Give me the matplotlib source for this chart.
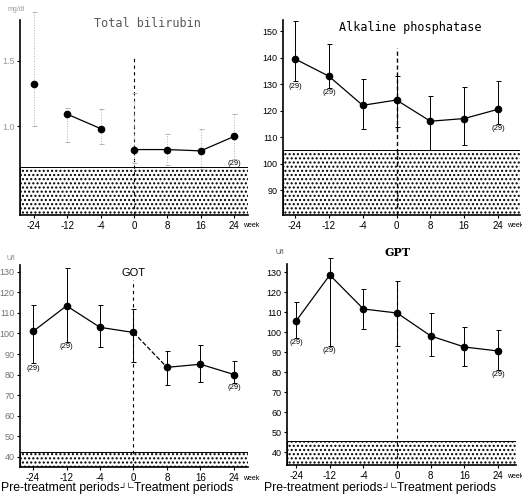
import matplotlib.pyplot as plt
import numpy as np

plt.rcParams['font.family'] = ['Liberation Sans', 'DejaVu Sans']

weeks = ["-24", "-12", "-4", "0", "8", "16", "24"]

# Total bilirubin (mg/dl)
bili_mean = [1.32, 1.09, 0.98, 0.82, 0.82, 0.81, 0.92]
bili_upper = [1.87, 1.14, 1.13, 1.25, 0.94, 0.98, 1.09]
bili_lower = [1.00, 0.88, 0.86, 0.72, 0.70, 0.67, 0.75]
bili_normal = 0.69

# Alkaline phosphatase
alp_mean = [139.5, 133.0, 122.0, 124.0, 116.0, 117.0, 120.5]
alp_upper = [154.0, 145.0, 132.0, 133.0, 125.5, 129.0, 131.0]
alp_lower = [131.0, 128.5, 113.0, 114.0, 105.0, 107.0, 115.0]
alp_normal = 105.0

# GOT
got_mean = [101.0, 113.5, 103.0, 100.5, 83.5, 85.0, 80.0]
got_upper = [114.0, 132.0, 114.0, 112.0, 91.5, 94.5, 86.5]
got_lower = [85.5, 96.0, 93.5, 86.0, 75.0, 76.5, 76.0]
got_normal = 42.0

# GPT
gpt_mean = [105.5, 128.5, 111.5, 109.5, 98.0, 92.5, 90.5]
gpt_upper = [115.0, 137.0, 121.5, 125.5, 109.5, 102.5, 101.0]
gpt_lower = [97.0, 93.0, 101.5, 93.0, 88.0, 83.0, 81.0]
gpt_normal = 45.5

n_label = "(29)"

W, H = 522, 496
fig = plt.figure(figsize=(W / 100, H / 100), dpi=100)


def panel(left, top, right, bottom):
    return fig.add_axes([left / W, 1 - bottom / H, (right - left) / W, (bottom - top) / H])


def setup(ax, xlim, ylim, yticks, ylabels, tick_color='black'):
    x = np.arange(len(weeks))
    ax.set_xlim(*xlim)
    ax.set_ylim(*ylim)
    for s in ['top', 'right']:
        ax.spines[s].set_visible(False)
    ax.spines['left'].set_linewidth(1.2)
    ax.spines['bottom'].set_linewidth(1.2)
    ax.set_xticks(x)
    ax.set_xticklabels(weeks, fontsize=7)
    ax.set_yticks(yticks)
    ax.set_yticklabels(ylabels, fontsize=6.5, color=tick_color)
    ax.tick_params(axis='both', length=2.5, width=0.8, pad=1.5)
    ax.text(6.27, -0.055, "week", transform=ax.get_xaxis_transform(),
            fontsize=5, va='center', ha='left', clip_on=False)
    return x


def normal_band(ax, top):
    lo = ax.get_ylim()[0]
    ax.axhspan(lo, top, facecolor='white', edgecolor='black', hatch='....',
               linewidth=0.7, zorder=0)


def err(ax, x, mean, upper, lower, color='black', ls='-'):
    mean = np.array(mean)
    yerr = [mean - np.array(lower), np.array(upper) - mean]
    eb = ax.errorbar(x, mean, yerr=yerr, fmt='none', ecolor=color,
                     elinewidth=0.7, capsize=1.8, capthick=0.7, zorder=2)
    for coll in eb.lines[2]:
        coll.set_linestyle(ls)
        coll.set_clip_on(False)
    for cap in eb.lines[1]:
        cap.set_clip_on(False)


def nlabels(ax, x, lower, idx):
    for i in idx:
        ax.annotate(n_label, (x[i], lower[i]), xytext=(0, -1), textcoords='offset points',
                    ha='center', va='top', fontsize=5.5)


# ---- Total bilirubin ----
ax1 = panel(20, 20, 248, 215)
x = setup(ax1, (-0.42, 6.42), (0.32, 1.81), [1.0, 1.5], ["1.0", "1.5"], tick_color='0.6')
normal_band(ax1, bili_normal)
ax1.vlines(3, ax1.get_ylim()[0], 1.52, colors='black', linestyles=(0, (3, 3)), linewidth=0.8)
err(ax1, x, bili_mean, bili_upper, bili_lower, color='0.7', ls=':')
ax1.plot(x[0], bili_mean[0], 'o', color='black', ms=4.5)
ax1.plot(x[1:3], bili_mean[1:3], '-o', color='black', ms=4.5, lw=0.9)
ax1.plot(x[3:], bili_mean[3:], '-o', color='black', ms=4.5, lw=0.9)
nlabels(ax1, x, bili_lower, [6])
ax1.text(3.4, 1.78, "Total bilirubin", family='DejaVu Sans Mono', fontsize=8.5,
         ha='center', va='center', color='0.35')
ax1.text(-0.8, 1.88, "mg/dl", fontsize=5, color='0.6', ha='left', clip_on=False)

# ---- Alkaline phosphatase ----
ax2 = panel(283, 20, 520, 215)
x = setup(ax2, (-0.355, 6.65), (80.6, 154.2), [90, 100, 110, 120, 130, 140, 150],
          ["90", "100", "110", "120", "130", "140", "150"])
normal_band(ax2, alp_normal)
ax2.vlines(3, ax2.get_ylim()[0], 143.6, colors='black', linestyles=(0, (3, 2)), linewidth=1.0)
err(ax2, x, alp_mean, alp_upper, alp_lower)
ax2.plot(x, alp_mean, '-o', color='black', ms=4.5, lw=0.9)
nlabels(ax2, x, alp_lower, [0, 1, 6])
ax2.text(3.4, 151.5, "Alkaline phosphatase", family='DejaVu Sans Mono', fontsize=8.5,
         ha='center', va='center')

# ---- GOT ----
ax3 = panel(20, 265, 248, 467)
ticks = list(range(40, 131, 10))
x = setup(ax3, (-0.39, 6.42), (34.9, 133.4), ticks, [str(t) for t in ticks], tick_color='0.45')
normal_band(ax3, got_normal)
ax3.vlines(3, ax3.get_ylim()[0], 126, colors='black', linestyles=(0, (3, 3)), linewidth=0.8)
err(ax3, x, got_mean, got_upper, got_lower)
ax3.plot(x[:4], got_mean[:4], '-o', color='black', ms=4.5, lw=0.9)
ax3.plot(x[3:5], got_mean[3:5], '--', color='black', lw=0.9)
ax3.plot(x[4:], got_mean[4:], '-o', color='black', ms=4.5, lw=0.9)
nlabels(ax3, x, got_lower, [0, 1, 6])
ax3.text(3.0, 129.5, "GOT", fontsize=8, ha='center', va='center')
ax3.text(-0.8, 136, "U/l", fontsize=5, color='0.5', ha='left', clip_on=False)

# ---- GPT ----
ax4 = panel(287, 264, 516, 465)
x = setup(ax4, (-0.27, 6.53), (33.5, 134.0), ticks, [str(t) for t in ticks])
normal_band(ax4, gpt_normal)
ax4.vlines(3, ax4.get_ylim()[0], 126, colors='black', linestyles=(0, (3, 3)), linewidth=0.8)
err(ax4, x, gpt_mean, gpt_upper, gpt_lower)
ax4.plot(x, gpt_mean, '-o', color='black', ms=4.5, lw=0.9)
nlabels(ax4, x, gpt_lower, [0, 1, 6])
ax4.text(3.0, 140, "GPT", family='DejaVu Serif', fontweight='bold', fontsize=8,
         ha='center', va='center', clip_on=False)
ax4.text(-0.6, 139, "U/l", fontsize=5, color='0.3', ha='left', clip_on=False)

# period captions under the bottom panels
pre_txt = "Pre-treatment periods"
join_txt = "-\u2518\u2514-"
post_txt = "Treatment periods"
cy = 1 - 488 / H
for cx in (127, 390):
    fig.text((cx - 7) / W, cy, pre_txt, fontsize=8.8, ha='right', va='center')
    fig.text(cx / W, cy, join_txt, fontsize=5.5, ha='center', va='center',
             family='DejaVu Sans')
    fig.text((cx + 7) / W, cy, post_txt, fontsize=8.8, ha='left', va='center')

fig.savefig("out.png", dpi=100)
